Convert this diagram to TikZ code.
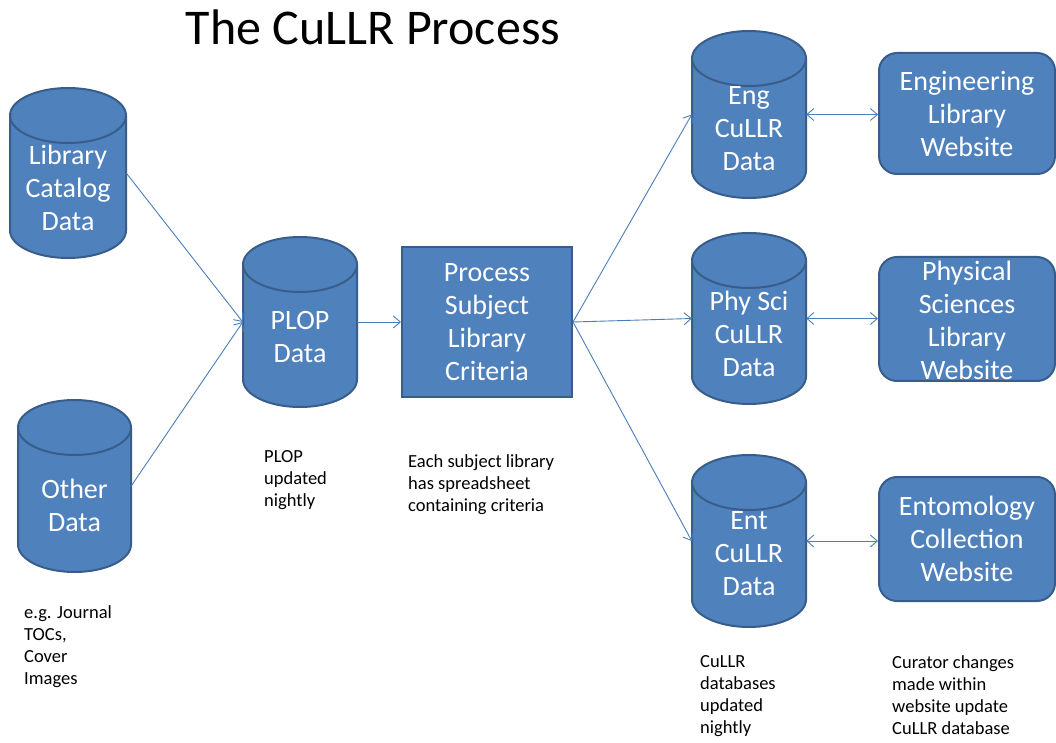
\documentclass[tikz,border=0pt]{standalone}
\usepackage{fontspec}
\setmainfont{Carlito}
\usetikzlibrary{arrows.meta}
\definecolor{boxfill}{HTML}{4F81BD}
\definecolor{boxline}{HTML}{385D8A}
\definecolor{arrcol}{HTML}{4A7EBB}
\def\cylry{27.5}
% #1 name, #2 cx, #3 top Y, #4 bottom Y, #5 rx, #6 text, #7 text Y
\newcommand\dbcyl[7]{%
  \node[inner sep=0pt, minimum width={2*#5*1pt}, minimum height={(#3-#4)*1pt}] (#1) at (#2,{(#3+#4)/2}) {};
  \path[cylshape] ({#2-#5},{#3-\cylry}) -- ({#2-#5},{#4+\cylry})
     arc[start angle=180,end angle=360,x radius=#5pt,y radius=\cylry pt]
     -- ({#2+#5},{#3-\cylry})
     arc[start angle=0,end angle=180,x radius=#5pt,y radius=\cylry pt] -- cycle;
  \draw[cylrim] ({#2+#5},{#3-\cylry}) arc[start angle=0,end angle=-180,x radius=#5pt,y radius=\cylry pt];
  \node[shapetext] (#1-t) at (#2,#7) {#6};
}
\tikzset{
  cylshape/.style={fill=boxfill, draw=boxline, line width=2pt},
  cylrim/.style={draw=boxline, line width=2pt},
  shapetext/.style={text=white, align=center, inner sep=0pt, font=\fontsize{28}{33}\selectfont},
  webbox/.style={fill=boxfill, draw=boxline, line width=2pt, rounded corners=18pt, minimum width=176pt, inner sep=0pt},
  procbox/.style={fill=boxfill, draw=boxline, line width=2pt, minimum width=170pt, minimum height=150pt, inner sep=0pt},
  note/.style={anchor=north west, align=left, inner sep=0pt, text=black, font=\fontsize{18.5}{22}\selectfont},
  arr/.style={draw=arrcol, line width=0.9pt, -{Straight Barb[length=7pt,width=12pt]}},
  biarr/.style={draw=arrcol, line width=0.9pt, {Straight Barb[length=7pt,width=12pt]}-{Straight Barb[length=7pt,width=12pt]}},
  titletext/.style={anchor=base, inner sep=0pt, font=\fontsize{50}{60}\selectfont}
}
\begin{document}
\begin{tikzpicture}[x=1pt,y=1pt]
\useasboundingbox (0,0) rectangle (1056,742);
\fill[white] (0,0) rectangle (1056,742);

\node[titletext] (title) at (373,697) {The CuLLR Process};

% cylinders
\dbcyl{libcat}{68}{654}{484}{58}{Library\\Catalog\\Data}{554}
\dbcyl{other}{74.5}{342}{170}{56.5}{Other\\Data}{237}
\dbcyl{plop}{300}{505}{335}{57}{PLOP\\Data}{405}
\dbcyl{eng}{749}{711}{544}{57}{Eng\\CuLLR\\Data}{613}
\dbcyl{phy}{749}{509}{338}{57}{Phy Sci\\CuLLR\\Data}{408}
\dbcyl{ent}{749}{287}{115}{57}{Ent\\CuLLR\\Data}{188}

% process box
\node[procbox] (proc) at (487,420) {};
\node[shapetext] (proc-t) at (487,420) {Process\\Subject\\Library\\Criteria};

% website boxes
\node[webbox, minimum height=121pt] (engw) at (967,628.5) {};
\node[shapetext] (engw-t) at (967,628.5) {Engineering\\Library\\Website};
\node[webbox, minimum height=124pt] (phyw) at (967,423) {};
\node[shapetext] (phyw-t) at (967,422) {Physical\\Sciences\\Library\\Website};
\node[webbox, minimum height=124pt] (entw) at (967,203) {};
\node[shapetext] (entw-t) at (967,203) {Entomology\\Collection\\Website};

% connectors
\draw[arr] (libcat.east) -- (plop.west);
\draw[arr] (other.east) -- (plop.west);
\draw[arr] (plop.east) -- (proc.west);
\draw[arr] (proc.east) -- (eng.west);
\draw[arr] (proc.east) -- (phy.west);
\draw[arr] (proc.east) -- (ent.west);
\draw[biarr] (eng.east) -- (eng.east -| engw.west);
\draw[biarr] (phy.east) -- (phy.east -| phyw.west);
\draw[biarr] (ent.east) -- (ent.east -| entw.west);

% notes
\node[note] (n-plop) at (264,292) {PLOP\\updated\\nightly};
\node[note] (n-crit) at (408,288) {Each subject library\\has spreadsheet\\containing criteria};
\node[note] (n-other) at (24,137) {e.g. Journal\\TOCs,\\Cover\\Images};
\node[note] (n-cullr) at (700,87) {CuLLR\\databases\\updated\\nightly};
\node[note] (n-cur) at (892,87) {Curator changes\\made within\\website update\\CuLLR database};
\end{tikzpicture}
\end{document}
